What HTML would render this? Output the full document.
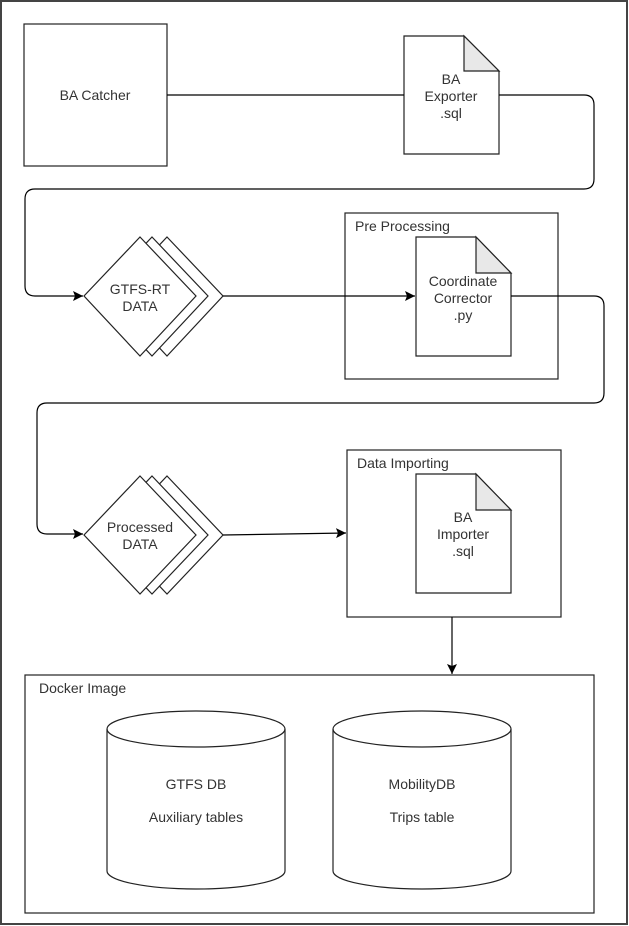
<!DOCTYPE html>
<html><head><style>
body{margin:0;background:#fff}
svg{display:block}
text{font-family:"Liberation Sans",sans-serif;font-size:14px;fill:#333}
</style></head><body>
<svg width="629" height="926" viewBox="0 0 629 926">
<defs><marker id="a" markerWidth="12" markerHeight="12" refX="11" refY="6" orient="auto" markerUnits="userSpaceOnUse"><path d="M1,1 L11,6 L1,11 L3,6 Z" fill="#000"/></marker></defs>
<rect x="1" y="1" width="626" height="923" fill="none" stroke="#444" stroke-width="2"/>
<g fill="#fff" stroke="#222" stroke-width="1.2">
<rect x="24" y="24" width="143" height="142"/>
<path d="M404,36 H464 L499,71 V154 H404 Z"/>
<path d="M464,36 V71 H499 Z" fill="#e8e8e8"/>
<rect x="345" y="213" width="213" height="166"/>
<path d="M416,237 H476 L511,273 V356 H416 Z"/>
<path d="M476,237 V273 H511 Z" fill="#e8e8e8"/>
<path d="M140,237 L196,296 L140,356 L84,296 Z" transform="translate(27,0)"/>
<path d="M140,237 L196,296 L140,356 L84,296 Z" transform="translate(12,0)"/>
<path d="M140,237 L196,296 L140,356 L84,296 Z"/>
<path d="M140,476 L196,535 L140,594 L84,535 Z" transform="translate(27,0)"/>
<path d="M140,476 L196,535 L140,594 L84,535 Z" transform="translate(12,0)"/>
<path d="M140,476 L196,535 L140,594 L84,535 Z"/>
<rect x="347" y="450" width="214" height="167"/>
<path d="M416,474 H476 L511,510 V593 H416 Z"/>
<path d="M476,474 V510 H511 Z" fill="#e8e8e8"/>
<rect x="25" y="675" width="569" height="238"/>
<path d="M107,729 A89,18 0 0 1 285,729 V871 A89,18 0 0 1 107,871 Z"/>
<path d="M107,729 A89,18 0 0 0 285,729" fill="none"/>
<path d="M333,729 A89,18 0 0 1 511,729 V871 A89,18 0 0 1 333,871 Z"/>
<path d="M333,729 A89,18 0 0 0 511,729" fill="none"/>
</g>
<g fill="none" stroke="#000" stroke-width="1.2">
<path d="M167,95 H404"/>
<path d="M499,95 H584 Q594,95 594,105 V179 Q594,189 584,189 H35 Q25,189 25,199 V286 Q25,296 35,296 H83" marker-end="url(#a)"/>
<path d="M223,296 H415" marker-end="url(#a)"/>
<path d="M511,296 H594 Q604,296 604,306 V393 Q604,403 594,403 H47 Q37,403 37,413 V524 Q37,534 47,534 H83" marker-end="url(#a)"/>
<path d="M223,535 L346,533" marker-end="url(#a)"/>
<path d="M452,617 V674" marker-end="url(#a)"/>
</g>
<text x="95" y="100" text-anchor="middle">BA Catcher</text>
<text x="451" y="84" text-anchor="middle">BA</text>
<text x="451" y="101" text-anchor="middle">Exporter</text>
<text x="451" y="118" text-anchor="middle">.sql</text>
<text x="355" y="231">Pre Processing</text>
<text x="463" y="286" text-anchor="middle">Coordinate</text>
<text x="463" y="303" text-anchor="middle">Corrector</text>
<text x="463" y="320" text-anchor="middle">.py</text>
<text x="140" y="294" text-anchor="middle">GTFS-RT</text>
<text x="140" y="311" text-anchor="middle">DATA</text>
<text x="140" y="532" text-anchor="middle">Processed</text>
<text x="140" y="549" text-anchor="middle">DATA</text>
<text x="357" y="468">Data Importing</text>
<text x="463" y="522" text-anchor="middle">BA</text>
<text x="463" y="539" text-anchor="middle">Importer</text>
<text x="463" y="556" text-anchor="middle">.sql</text>
<text x="39" y="693">Docker Image</text>
<text x="196" y="789" text-anchor="middle">GTFS DB</text>
<text x="196" y="822" text-anchor="middle">Auxiliary tables</text>
<text x="422" y="789" text-anchor="middle">MobilityDB</text>
<text x="422" y="822" text-anchor="middle">Trips table</text>
</svg>
</body></html>
